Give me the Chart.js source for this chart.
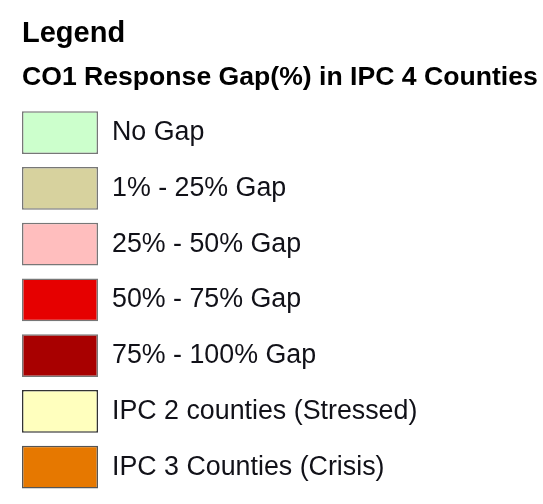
<!DOCTYPE html>
<html>
<head>
<meta charset="utf-8">
<script src="https://cdn.jsdelivr.net/npm/chart.js@4"></script>
<style>
  html, body { margin: 0; padding: 0; background: #fff; }
  canvas { display: block; }
</style>
</head>
<body>
<canvas id="legendChart" width="543" height="504"></canvas>
<script>
// legend classes (top to bottom)
const categories = [
  "No Gap",
  "1% - 25% Gap",
  "25% - 50% Gap",
  "50% - 75% Gap",
  "75% - 100% Gap",
  "IPC 2 counties (Stressed)",
  "IPC 3 Counties (Crisis)"
];
// every swatch is one full-width box
const swatchValues = [1, 1, 1, 1, 1, 1, 1];
const fillColors = ["#ccffcc", "#d7d29e", "#ffbebe", "#e60000", "#a80000", "#ffffbe", "#e67800"];
const edgeColors = ["#777777", "#777777", "#777777", "#777777", "#777777", "#333333", "#555555"];

const ctx = document.getElementById("legendChart").getContext("2d");

new Chart(ctx, {
  type: "bar",
  data: {
    labels: categories,
    datasets: [{
      data: swatchValues,
      backgroundColor: fillColors,
      borderColor: edgeColors,
      borderWidth: 1.5,
      borderSkipped: false,
      categoryPercentage: 1,
      barPercentage: 0.77
    }]
  },
  options: {
    indexAxis: "y",
    responsive: false,
    animation: false,
    devicePixelRatio: 1,
    layout: { padding: { left: 22, right: 0, top: 0, bottom: 9 } },
    plugins: {
      legend: { display: false },
      tooltip: { enabled: false },
      title: {
        display: true,
        text: "Legend",
        align: "start",
        color: "#000",
        font: { family: "'Liberation Sans', Arial, sans-serif", size: 29, weight: "bold" },
        padding: { top: 17, bottom: 10 }
      },
      subtitle: {
        display: true,
        text: "CO1 Response Gap(%) in IPC 4 Counties",
        align: "start",
        color: "#000",
        font: { family: "'Liberation Sans', Arial, sans-serif", size: 26.6, weight: "bold" },
        padding: { top: 0, bottom: 11 }
      }
    },
    scales: {
      x: { display: false, min: 0, max: 1 },
      y: {
        position: "right",
        grid: { display: false, drawTicks: false },
        border: { display: false },
        ticks: {
          autoSkip: false,
          padding: 14,
          color: "#111118",
          font: { family: "'Liberation Sans', Arial, sans-serif", size: 26.8 }
        },
        afterFit: (scale) => {
          scale.width = 445;
          scale.paddingTop = 0;
          scale.paddingBottom = 0;
        }
      }
    }
  }
});
</script>
</body>
</html>
